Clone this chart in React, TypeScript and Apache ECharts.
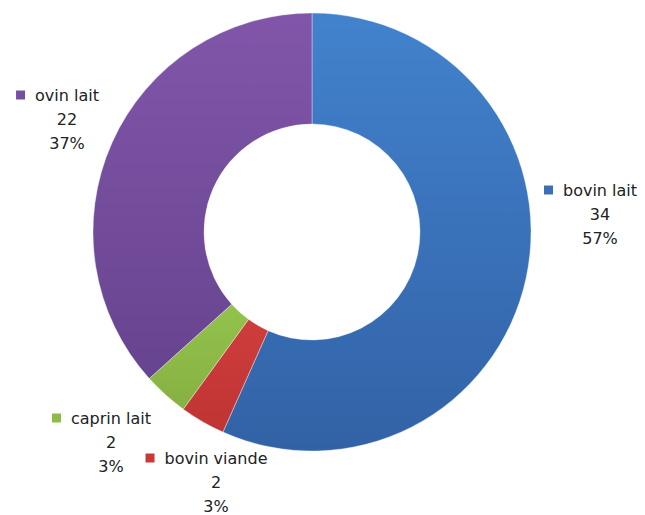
import React, { useEffect, useRef } from "react";
import * as echarts from "echarts";

const categories = ["bovin lait", "bovin viande", "caprin lait", "ovin lait"];
const values = [34, 2, 2, 22];
const colorsTop = ["#4282CD", "#CE3D3C", "#93C24C", "#8156AA"];
const colorsBottom = ["#3262A6", "#BF3434", "#86B143", "#67448F"];
const swatch = ["#3A70B8", "#C83939", "#8CBB48", "#7550A0"];
// label block centres (px)
const labelX = [600, 216, 111, 67];
const labelY = [214, 482, 442, 119];

export default function App() {
  const ref = useRef<HTMLDivElement>(null);
  useEffect(() => {
    document.body.style.margin = "0";
    const chart = echarts.init(ref.current!, null, { renderer: "svg" });
    const rich: any = {
      gap: { width: 10 },
      pad: { width: 19 },
      t: { fontFamily: "DejaVu Sans", fontSize: 16, color: "#222", lineHeight: 24 },
    };
    categories.forEach((_, i) => {
      rich["sq" + i] = { width: 9, height: 9, backgroundColor: swatch[i] };
    });
    chart.setOption({
      animation: false,
      series: [
        {
          type: "pie",
          center: [312, 232],
          radius: [108, 219],
          startAngle: 90,
          clockwise: true,
          percentPrecision: 0,
          avoidLabelOverlap: false,
          itemStyle: { borderColor: "rgba(255,255,255,0.6)", borderWidth: 0.6 },
          label: {
            show: true,
            position: "outside",
            formatter: (p: any) =>
              `{sq${p.dataIndex}|}{gap|}{t|${p.name}}{pad|}\n{t|${p.value}}\n{t|${Math.round(p.percent)}%}`,
            rich,
            fontFamily: "DejaVu Sans",
            fontSize: 16,
            color: "#222",
            lineHeight: 24,
          },
          labelLine: { show: false },
          labelLayout: (params: any) => ({
            x: labelX[params.dataIndex],
            y: labelY[params.dataIndex],
            align: "center",
            verticalAlign: "middle",
          }),
          data: categories.map((name, i) => ({
            name,
            value: values[i],
            itemStyle: {
              color: new echarts.graphic.LinearGradient(0, 0, 0, 1, [
                { offset: 0, color: colorsTop[i] },
                { offset: 1, color: colorsBottom[i] },
              ]),
            },
          })),
        },
      ],
    });
    return () => chart.dispose();
  }, []);
  return <div ref={ref} style={{ width: 645, height: 515 }} />;
}
